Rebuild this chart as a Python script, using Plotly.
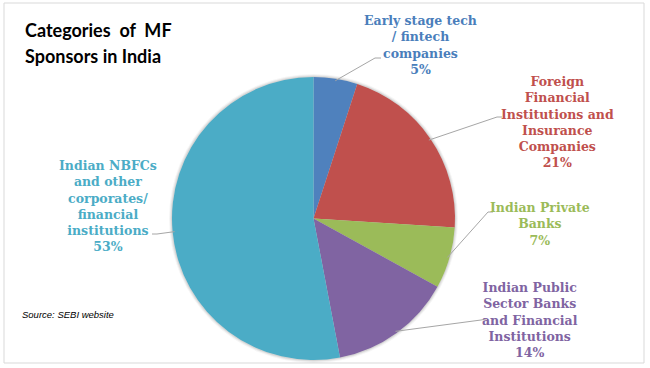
import math
import plotly.graph_objects as go

# ---- data ----
categories = [
    "Early stage tech<br>/ fintech<br>companies",
    "Foreign<br>Financial<br>Institutions and<br>Insurance<br>Companies",
    "Indian Private<br>Banks",
    "Indian Public<br>Sector Banks<br>and Financial<br>Institutions",
    "Indian NBFCs<br>and other<br>corporates/<br>financial<br>institutions",
]
shares = [5, 21, 7, 14, 53]
colors = ["#4F81BD", "#C0504D", "#9BBB59", "#8064A2", "#4BACC6"]
label_colors = ["#4A7EBB", "#C0504D", "#9BBB59", "#8064A2", "#4BACC6"]
title_lines = ["Categories&nbsp;&nbsp;of&nbsp;&nbsp;MF", "Sponsors in India"]
source_text = "Source: SEBI website"

# ---- layout constants (pixels) ----
W, H = 650, 368
pie_left, pie_right, pie_top, pie_bottom = 172, 455, 77, 360
cx = (pie_left + pie_right) / 2
cy = (pie_top + pie_bottom) / 2
R = (pie_right - pie_left) / 2

label_pos = [(420, 45), (557, 122), (540, 224), (530, 320), (108, 206)]
elbow_pos = [(375, 58), (497, 117), (488, 212), (481, 320), (157, 234)]
end_pos = [(381, 58), (502, 117), (493, 212), (486, 319), (152, 234)]


def px(x):
    return x / W


def py(y):
    return 1 - y / H


fig = go.Figure(
    go.Pie(
        values=shares,
        labels=[c.replace("<br>", " ") for c in categories],
        marker=dict(colors=colors, line=dict(color="white", width=0)),
        sort=False,
        direction="clockwise",
        rotation=0,
        textinfo="none",
        showlegend=False,
        domain=dict(x=[px(pie_left), px(pie_right)], y=[py(pie_bottom), py(pie_top)]),
    )
)

shapes = [
    dict(type="rect", xref="paper", yref="paper", x0=px(4), x1=px(644), y0=py(363), y1=py(3),
         line=dict(color="#D9D9D9", width=1), fillcolor="rgba(0,0,0,0)", layer="below"),
]
# soft shadow around the pie
for grow, alpha in [(3, 0.04), (2, 0.06), (1, 0.08)]:
    shapes.append(dict(type="circle", xref="paper", yref="paper",
                       x0=px(cx - R - grow), x1=px(cx + R + grow),
                       y0=py(cy + R + grow), y1=py(cy - R - grow),
                       line=dict(width=0), fillcolor=f"rgba(0,0,0,{alpha})", layer="below"))

annotations = []
total = sum(shares)
cum = 0
for i, v in enumerate(shares):
    mid = (cum + v / 2) / total * 2 * math.pi
    cum += v
    ex = cx + (R - 2) * math.sin(mid)
    ey = cy - (R - 2) * math.cos(mid)
    bx, by = elbow_pos[i]
    fx, fy = end_pos[i]
    path = f"M {px(ex)} {py(ey)} L {px(bx)} {py(by)} L {px(fx)} {py(fy)}"
    shapes.append(dict(type="path", xref="paper", yref="paper", path=path,
                       line=dict(color="#A6A6A6", width=1)))
    lx, ly = label_pos[i]
    annotations.append(dict(
        x=px(lx), y=py(ly), xref="paper", yref="paper", showarrow=False,
        text=f"<b>{categories[i]}<br>{v}%</b>", align="center",
        xanchor="center", yanchor="middle",
        font=dict(family="DejaVu Serif, serif", size=12.5, color=label_colors[i]),
    ))

for j, (t, yy) in enumerate(zip(title_lines, [30, 56])):
    annotations.append(dict(
        x=px(23), y=py(yy), xref="paper", yref="paper", showarrow=False,
        xanchor="left", yanchor="middle", align="left",
        text=f"<b>{t}</b>",
        font=dict(family="Lato", size=18, color="#000000"),
    ))
annotations.append(dict(
    x=px(20), y=py(314), xref="paper", yref="paper", showarrow=False,
    xanchor="left", yanchor="middle",
    text=f"<i>{source_text}</i>",
    font=dict(family="Liberation Sans", size=9.5, color="#000000"),
))

fig.update_layout(
    width=W, height=H,
    margin=dict(l=0, r=0, t=0, b=0),
    paper_bgcolor="white", plot_bgcolor="white",
    shapes=shapes, annotations=annotations,
)

fig.write_html("out.html", config={"displayModeBar": False},
               post_script="document.body.style.margin='0';document.body.style.overflow='hidden';")
